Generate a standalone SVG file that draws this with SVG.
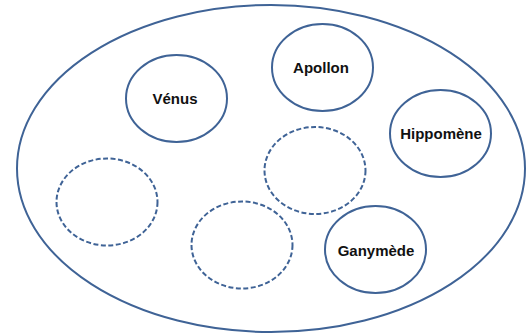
<svg xmlns="http://www.w3.org/2000/svg" width="526" height="335" viewBox="0 0 526 335">
<style>
.o{fill:none;stroke:#3f6396;stroke-width:2}
.d{fill:none;stroke:#3f6396;stroke-width:2;stroke-dasharray:5 2.5}
.t{font-family:"Liberation Sans",Arial,sans-serif;font-weight:bold;font-size:15px;fill:#111;text-anchor:middle}
</style>
<rect width="526" height="335" fill="#fff"/>
<g id="univers"><ellipse class="o" cx="271" cy="168.5" rx="254" ry="163.5"/></g>
<g id="venus"><ellipse class="o" cx="176.5" cy="98.5" rx="50.5" ry="43.5"/><text class="t" x="175" y="104">Vénus</text></g>
<g id="apollon"><ellipse class="o" cx="322.5" cy="67.5" rx="50.5" ry="43.5"/><text class="t" x="321" y="73">Apollon</text></g>
<g id="hippomene"><ellipse class="o" cx="440.5" cy="133.5" rx="50.5" ry="43.5"/><text class="t" x="441" y="139">Hippomène</text></g>
<g id="ganymede"><ellipse class="o" cx="375.5" cy="249.5" rx="50.5" ry="43.5"/><text class="t" x="376" y="256">Ganymède</text></g>
<g id="vide1"><ellipse class="d" cx="107" cy="202" rx="50.5" ry="43.5"/></g>
<g id="vide2"><ellipse class="d" cx="315" cy="170.5" rx="50.5" ry="43.5"/></g>
<g id="vide3"><ellipse class="d" cx="242" cy="245" rx="50.5" ry="43.5"/></g>
<g id="connectors"></g>
</svg>
